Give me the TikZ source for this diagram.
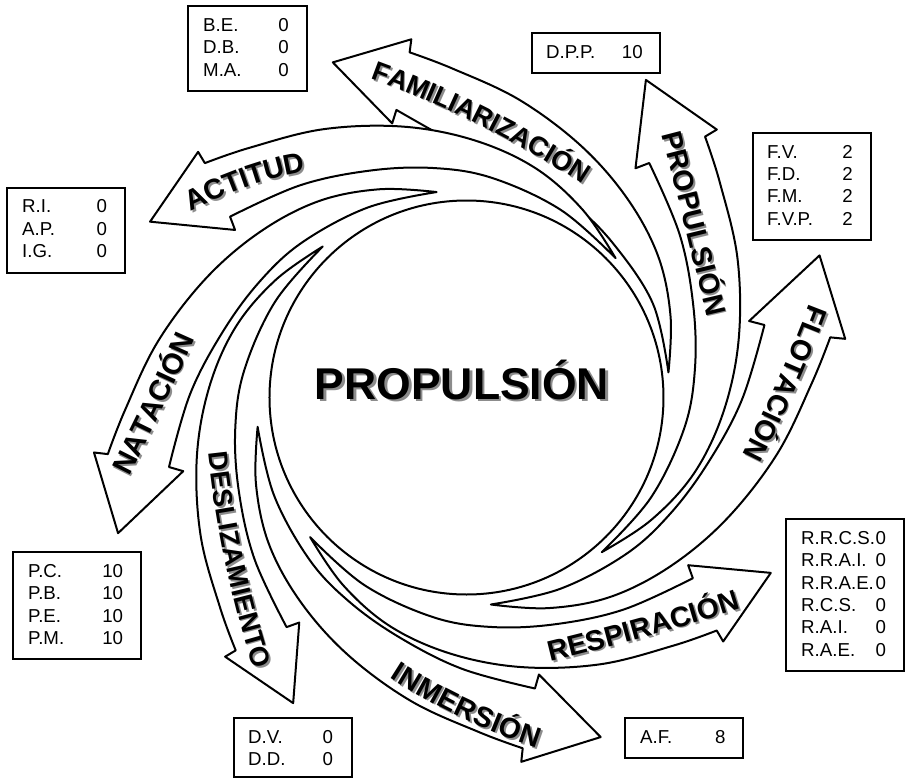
\documentclass[tikz,border=0pt]{standalone}
\usepackage{fontspec}
\setmainfont{Liberation Sans}
\usetikzlibrary{decorations.text}
\definecolor{shadowgray}{RGB}{140,140,140}
\tikzset{
  swirlline/.style={draw=black, fill=white, line width=2pt, line join=round},
  boxframe/.style={draw=black, line width=2.6pt, inner sep=0pt},
  boxtext/.style={inner sep=0pt, font=\fontsize{18.7}{18.7}\selectfont},
}
% One swirl arrow around the centre: #1 tail angle, #2 angular stretch,
% #3 radial stretch, #4 stretch of the inner flank
\newcommand\swirl[4]{%
  \draw[swirlline]
    plot[smooth, tension=0.6] coordinates {
      ({#1}:{198+9*#3})
      ({#1+15*#2}:{198+25*#3})
      ({#1+30*#2}:{198+43*#3})
      ({#1+45*#2}:{198+60*#3})
      ({#1+60*#2}:{198+80*#3})
      ({#1+75*#2}:{198+105*#3})
      ({#1+88*#2}:{198+131*#3})
      ({#1+95.2*#2}:{198+151*#3})}
    -- ({#1+94.6*#2}:{198+163.6*#3})
    -- ({#1+108.1*#2}:{198+161.2*#3})
    -- ({#1+101.1*#2}:{198+85.2*#3})
    -- ({#1+99.6*#2}:{198+97.2*#3})
    -- plot[smooth, tension=0.6] coordinates {
      ({#1+99.6*#2}:{198+97.2*#3})
      ({#1+85*#2}:{198+70*#3*#4})
      ({#1+70*#2}:{198+48*#3*#4})
      ({#1+55*#2}:{198+34*#3*#4})
      ({#1+40*#2}:{198+24*#3*#4})
      ({#1+20*#2}:{198+14*#3})
      ({#1}:{198+9*#3})}
    -- cycle;}
% Bold shadowed word along a curve through first-letter, middle and last-letter points
\newcommand\bandlabel[8]{%
  \pgfmathsetmacro\bandraise{-0.358*#7}%
  \foreach \sx/\sy/\tc in {1.8/-1.8/shadowgray,0/0/black}{%
    \path[shift={(\sx,\sy)}, decorate, decoration={text along path, text align=center,
        raise=\bandraise pt,
        text={|\fontsize{#7}{#7}\selectfont\bfseries\color{\tc}|#8}}]
      plot[domain=-0.15:1.15, samples=80, variable=\u]
      ({(#1)+(4*(#3)-3*(#1)-(#5))*\u+(2*(#1)+2*(#5)-4*(#3))*\u*\u},
       {(#2)+(4*(#4)-3*(#2)-(#6))*\u+(2*(#2)+2*(#6)-4*(#4))*\u*\u});
  }}
\begin{document}
\begin{tikzpicture}[x=1pt, y=1pt]
\useasboundingbox (-463,-382) rectangle (443,398);

% swirl arrows
\swirl{7.1}{0.963}{1.005}{0.72}
\swirl{42.5}{1}{1.0}{1}
\swirl{97.3}{0.963}{1.07}{1}
\swirl{132.8}{1}{0.938}{1}
\swirl{-172}{0.963}{1.042}{1}
\swirl{-137.7}{1}{0.968}{1}
\swirl{-82.3}{0.963}{1.154}{1}
\swirl{-48}{1}{1.048}{1}

% central ring
\draw[line width=2pt] (3.5,0.5) circle[radius=197];

% central title
\node[font=\fontsize{44.5}{44.5}\selectfont\bfseries, text=shadowgray, anchor=base, inner sep=0pt] (titleshadow) at (1.5,-3.5) {PROPULSIÓN};
\node[font=\fontsize{44.5}{44.5}\selectfont\bfseries, anchor=base, inner sep=0pt] (title) at (-1,-1) {PROPULSIÓN};

% words on the arrows
\bandlabel{-79}{325}{22}{281}{117}{227}{27}{FAMILIARIZACIÓN}
\bandlabel{-266}{201}{-215}{222}{-167}{235}{28.5}{ACTITUD}
\bandlabel{210}{261}{231}{178}{252}{91}{28.5}{PROPULSIÓN}
\bandlabel{353}{83}{324}{13}{292}{-55}{28.5}{FLOTACIÓN}
\bandlabel{92}{-252}{180}{-229}{268}{-203}{28.5}{RESPIRACIÓN}
\bandlabel{-65}{-273}{2}{-310}{74}{-339}{28.5}{INMERSIÓN}
\bandlabel{-244}{-64}{-228}{-162}{-203}{-259}{27}{DESLIZAMIENTO}
\bandlabel{-340}{-68}{-309}{-5}{-280}{58}{29}{NATACIÓN}

% score boxes
\node[boxframe, minimum width=119pt, minimum height=85pt] (boxBE) at (-215.5,349.5) {};
\node[boxtext, anchor=base west] (lBE) at (-260,366.3) {B.E.};
\node[boxtext, anchor=base west] (lDB) at (-260,344) {D.B.};
\node[boxtext, anchor=base west] (lMA) at (-260,321.3) {M.A.};
\node[boxtext, anchor=base east] (vBE) at (-174,366.3) {0};
\node[boxtext, anchor=base east] (vDB) at (-174,344) {0};
\node[boxtext, anchor=base east] (vMA) at (-174,321.3) {0};

\node[boxframe, minimum width=128pt, minimum height=40pt] (boxDPP) at (133,345) {};
\node[boxtext, anchor=base west] (lDPP) at (83,339.7) {D.P.P.};
\node[boxtext, anchor=base east] (vDPP) at (180,339.7) {10};

\node[boxframe, minimum width=118pt, minimum height=107pt] (boxFV) at (349,211.5) {};
\node[boxtext, anchor=base west] (lFV) at (304,239.7) {F.V.};
\node[boxtext, anchor=base west] (lFD) at (304,218) {F.D.};
\node[boxtext, anchor=base west] (lFM) at (304,195.3) {F.M.};
\node[boxtext, anchor=base west] (lFVP) at (304,173) {F.V.P.};
\node[boxtext, anchor=base east] (vFV) at (390,239.7) {2};
\node[boxtext, anchor=base east] (vFD) at (390,218) {2};
\node[boxtext, anchor=base east] (vFM) at (390,195.3) {2};
\node[boxtext, anchor=base east] (vFVP) at (390,173) {2};

\node[boxframe, minimum width=118pt, minimum height=85pt] (boxRI) at (-397,167.5) {};
\node[boxtext, anchor=base west] (lRI) at (-441,185.7) {R.I.};
\node[boxtext, anchor=base west] (lAP) at (-441,163) {A.P.};
\node[boxtext, anchor=base west] (lIG) at (-441,140.7) {I.G.};
\node[boxtext, anchor=base east] (vRI) at (-355.7,185.7) {0};
\node[boxtext, anchor=base east] (vAP) at (-355.7,163) {0};
\node[boxtext, anchor=base east] (vIG) at (-355.7,140.7) {0};

\node[boxframe, minimum width=128pt, minimum height=107pt] (boxPC) at (-386,-207.5) {};
\node[boxtext, anchor=base west] (lPC) at (-435,-179.3) {P.C.};
\node[boxtext, anchor=base west] (lPB) at (-435,-201.3) {P.B.};
\node[boxtext, anchor=base west] (lPE) at (-435,-224.3) {P.E.};
\node[boxtext, anchor=base west] (lPM) at (-435,-246.3) {P.M.};
\node[boxtext, anchor=base east] (vPC) at (-339.7,-179.3) {10};
\node[boxtext, anchor=base east] (vPB) at (-339.7,-201.3) {10};
\node[boxtext, anchor=base east] (vPE) at (-339.7,-224.3) {10};
\node[boxtext, anchor=base east] (vPM) at (-339.7,-246.3) {10};

\node[boxframe, minimum width=118pt, minimum height=59pt] (boxDV) at (-170,-349.5) {};
\node[boxtext, anchor=base west] (lDV) at (-215,-345.3) {D.V.};
\node[boxtext, anchor=base west] (lDD) at (-215,-367) {D.D.};
\node[boxtext, anchor=base east] (vDV) at (-129.7,-345.3) {0};
\node[boxtext, anchor=base east] (vDD) at (-129.7,-367) {0};

\node[boxframe, minimum width=118pt, minimum height=40pt] (boxAF) at (221,-340) {};
\node[boxtext, anchor=base west] (lAF) at (177,-345.3) {A.F.};
\node[boxtext, anchor=base east] (vAF) at (262.7,-345.3) {8};

\node[boxframe, minimum width=118pt, minimum height=152pt] (boxRR) at (382,-197) {};
\node[boxtext, anchor=base west] (lRRCS) at (338,-146.3) {R.R.C.S.};
\node[boxtext, anchor=base west] (lRRAI) at (338,-168.7) {R.R.A.I.};
\node[boxtext, anchor=base west] (lRRAE) at (338,-191.3) {R.R.A.E.};
\node[boxtext, anchor=base west] (lRCS) at (338,-213) {R.C.S.};
\node[boxtext, anchor=base west] (lRAI) at (338,-235.3) {R.A.I.};
\node[boxtext, anchor=base west] (lRAE) at (338,-258) {R.A.E.};
\node[boxtext, anchor=base east] (vRRCS) at (423.3,-146.3) {0};
\node[boxtext, anchor=base east] (vRRAI) at (423.3,-168.7) {0};
\node[boxtext, anchor=base east] (vRRAE) at (423.3,-191.3) {0};
\node[boxtext, anchor=base east] (vRCS) at (423.3,-213) {0};
\node[boxtext, anchor=base east] (vRAI) at (423.3,-235.3) {0};
\node[boxtext, anchor=base east] (vRAE) at (423.3,-258) {0};
\end{tikzpicture}
\end{document}
